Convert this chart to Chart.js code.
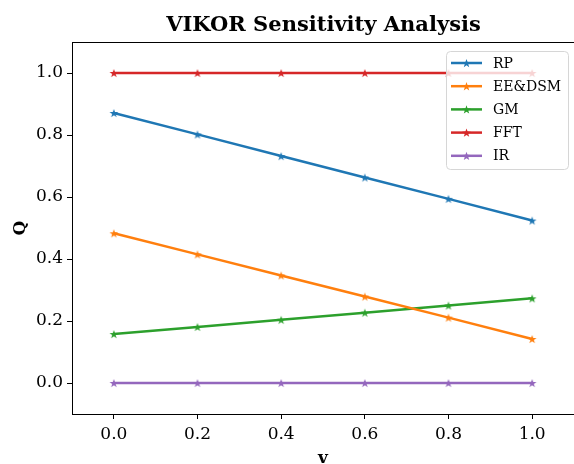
<!DOCTYPE html>
<html>
<head>
<meta charset="utf-8">
<script src="https://cdn.jsdelivr.net/npm/chart.js@4.4.1/dist/chart.umd.min.js"></script>
<style>
  html, body { margin: 0; padding: 0; background: #fff; overflow: hidden; }
  #chart { position: absolute; left: 0; top: 0; }
</style>
</head>
<body>
<canvas id="chart" width="574" height="464"></canvas>
<script>
// Sensitivity of Q to the weight v
const vValues = [0.0, 0.2, 0.4, 0.6, 0.8, 1.0];
const seriesNames = ['RP', 'EE&DSM', 'GM', 'FFT', 'IR'];
const rpQ = [0.871, 0.802, 0.732, 0.663, 0.594, 0.524];
const eeDsmQ = [0.483, 0.415, 0.347, 0.279, 0.211, 0.142];
const gmQ = [0.158, 0.181, 0.204, 0.227, 0.250, 0.273];
const fftQ = [1.0, 1.0, 1.0, 1.0, 1.0, 1.0];
const irQ = [0.0, 0.0, 0.0, 0.0, 0.0, 0.0];
const xTicks = [0.0, 0.2, 0.4, 0.6, 0.8, 1.0];
const yTicks = [0.0, 0.2, 0.4, 0.6, 0.8, 1.0];
const chartTitle = 'VIKOR Sensitivity Analysis';

const colors = ['#1f77b4', '#ff7f0e', '#2ca02c', '#d62728', '#9467bd'];
const serif = "'DejaVu Serif', serif";
const starR = 4.6;

// filled five-point star, used as the point marker
function starPath(ctx, cx, cy, r) {
    const inner = r * 0.4;
    ctx.beginPath();
    for (let i = 0; i < 10; i++) {
        const rad = i % 2 === 0 ? r : inner;
        const a = -Math.PI / 2 + i * Math.PI / 5;
        const x = cx + rad * Math.cos(a);
        const y = cy + rad * Math.sin(a);
        if (i === 0) ctx.moveTo(x, y); else ctx.lineTo(x, y);
    }
    ctx.closePath();
}

function makeStar(color) {
    const c = document.createElement('canvas');
    c.width = 12;
    c.height = 12;
    const g = c.getContext('2d');
    starPath(g, 6, 6.5, starR);
    g.fillStyle = color;
    g.fill();
    return c;
}

const allQ = [rpQ, eeDsmQ, gmQ, fftQ, irQ];
const datasets = allQ.map((q, i) => ({
    label: seriesNames[i],
    data: q.map((y, j) => ({ x: vValues[j], y: y })),
    borderColor: colors[i],
    backgroundColor: colors[i],
    borderWidth: 2.5,
    pointStyle: makeStar(colors[i]),
    pointRadius: 5,
    tension: 0
}));

// title over the plot, frame round it, legend box in the upper right corner
const framePlugin = {
    id: 'frameAndLegend',
    afterDatasetsDraw(chart) {
        const ctx = chart.ctx;
        const a = chart.chartArea;
        ctx.save();
        ctx.strokeStyle = '#000';
        ctx.lineWidth = 1;
        ctx.strokeRect(a.left + 0.5, a.top + 0.5, a.right - a.left + 1, a.bottom - a.top);

        ctx.fillStyle = '#000';
        ctx.font = 'bold 21px ' + serif;
        ctx.textAlign = 'center';
        ctx.textBaseline = 'middle';
        ctx.fillText(chartTitle, (a.left + 575) / 2, 26);

        // legend
        const lx = 446.5, ly = 51.5, lw = 122, lh = 118, rr = 4;
        ctx.beginPath();
        ctx.roundRect(lx, ly, lw, lh, rr);
        ctx.fillStyle = 'rgba(255,255,255,0.8)';
        ctx.fill();
        ctx.strokeStyle = '#d6d6d6';
        ctx.lineWidth = 1;
        ctx.stroke();

        ctx.font = '14px ' + serif;
        ctx.textAlign = 'left';
        seriesNames.forEach((name, i) => {
            const y = 63 + i * 23.2;
            ctx.strokeStyle = colors[i];
            ctx.lineWidth = 2.5;
            ctx.beginPath();
            ctx.moveTo(451, y);
            ctx.lineTo(482, y);
            ctx.stroke();
            starPath(ctx, 466.5, y + 0.5, starR);
            ctx.fillStyle = colors[i];
            ctx.fill();
            ctx.fillStyle = '#000';
            ctx.fillText(name, 493, y + 1);
        });
        ctx.restore();
    }
};

new Chart(document.getElementById('chart'), {
    type: 'line',
    data: { datasets: datasets },
    options: {
        responsive: false,
        animation: false,
        devicePixelRatio: 1,
        layout: { autoPadding: false, padding: { left: 0, right: 0, top: 42, bottom: 0 } },
        plugins: {
            legend: { display: false },
            tooltip: { enabled: false }
        },
        scales: {
            x: {
                type: 'linear',
                min: -0.1,
                max: 1.1,
                afterBuildTicks: s => { s.ticks = xTicks.map(v => ({ value: v })); },
                afterFit: s => { s.height = 50; s.paddingLeft = 0; s.paddingRight = 0; },
                grid: { display: true, drawOnChartArea: false, tickLength: 5, color: '#000' },
                border: { display: true, color: '#000', width: 1 },
                ticks: {
                    color: '#000',
                    padding: 5,
                    maxRotation: 0,
                    font: { family: serif, size: 17 },
                    callback: v => v.toFixed(1)
                },
                title: {
                    display: true,
                    text: 'v',
                    color: '#000',
                    font: { family: serif, size: 17, weight: 'bold' },
                    padding: { top: 0, bottom: -4.5 }
                }
            },
            y: {
                type: 'linear',
                min: -0.1,
                max: 1.1,
                afterBuildTicks: s => { s.ticks = yTicks.map(v => ({ value: v })); },
                afterFit: s => { s.width = 72; s.paddingTop = 0; s.paddingBottom = 0; },
                grid: { display: true, drawOnChartArea: false, tickLength: 5, color: '#000' },
                border: { display: true, color: '#000', width: 1 },
                ticks: {
                    color: '#000',
                    padding: 4,
                    font: { family: serif, size: 17 },
                    callback: v => v.toFixed(1)
                },
                title: {
                    display: true,
                    text: 'Q',
                    color: '#000',
                    font: { family: serif, size: 17, weight: 'bold' },
                    padding: { top: 10, bottom: 0 }
                }
            }
        }
    },
    plugins: [framePlugin]
});
</script>
</body>
</html>
